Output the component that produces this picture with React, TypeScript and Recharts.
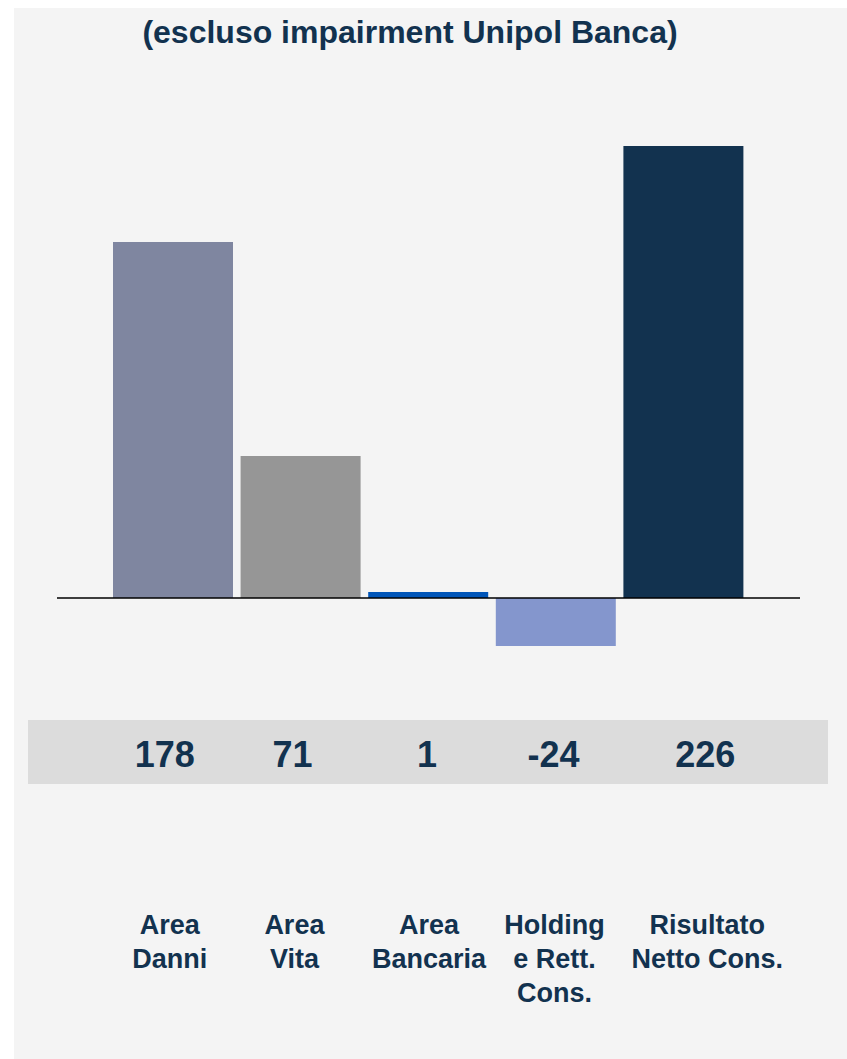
import React from 'react';
import { BarChart, Bar, XAxis, YAxis, Cell, ReferenceLine } from 'recharts';

const categories = ['Area Danni', 'Area Vita', 'Area Bancaria', 'Holding e Rett. Cons.', 'Risultato Netto Cons.'];
const labelLines = [['Area', 'Danni'], ['Area', 'Vita'], ['Area', 'Bancaria'], ['Holding', 'e Rett.', 'Cons.'], ['Risultato', 'Netto Cons.']];
const values = [178, 71, 1, -24, 226];
const colors = ['#7f86a0', '#969696', '#0055b8', '#8496cd', '#12324f'];

const data = categories.map((name, i) => ({ name, value: values[i] }));

const FONT = '"Liberation Sans", Arial, Helvetica, sans-serif';
const TEXT = '#12324f';

// fixed rows below the plot (page coordinates)
const VALUE_BASELINE = 767;
const LABEL_BASELINE = 934;
const LINE_STEP = 34;
// text boxes in the original are not quite centred on the bars
const VALUE_DX = [-8, -8, -1, -2, 22];
const LABEL_DX = [-3, -6, 1, -1, 24];

function CategoryTick(props: any) {
  const { x, payload } = props;
  const i = payload.index;
  return (
    <g>
      <text
        x={x + VALUE_DX[i]}
        y={VALUE_BASELINE}
        textAnchor="middle"
        fill={TEXT}
        fontFamily={FONT}
        fontWeight="bold"
        fontSize={36}
      >
        {values[i]}
      </text>
      {labelLines[i].map((line, k) => (
        <text
          key={k}
          x={x + LABEL_DX[i]}
          y={LABEL_BASELINE + k * LINE_STEP}
          textAnchor="middle"
          fill={TEXT}
          fontFamily={FONT}
          fontWeight="bold"
          fontSize={27}
        >
          {line}
        </text>
      ))}
    </g>
  );
}

export default function App() {
  return (
    <div style={{ position: 'absolute', left: 0, top: 0, width: 847, height: 1059, background: '#fff', overflow: 'hidden' }}>
      <div style={{ position: 'absolute', left: 14, top: 8, right: 0, bottom: 0, background: '#f4f4f4' }} />
      <div style={{ position: 'absolute', left: 28, top: 720, width: 800, height: 64, background: '#dcdcdc' }} />
      <div
        style={{
          position: 'absolute',
          left: 0,
          width: 820,
          top: 14,
          textAlign: 'center',
          fontFamily: FONT,
          fontWeight: 'bold',
          fontSize: 32,
          lineHeight: '36px',
          color: TEXT,
        }}
      >
        (escluso impairment Unipol Banca)
      </div>
      <div style={{ position: 'absolute', left: 0, top: 0 }}>
        <BarChart width={847} height={1059} data={data} margin={{ top: 98, right: 47, bottom: 231, left: 57 }}>
          <YAxis hide domain={[-100, 250]} allowDataOverflow />
          <XAxis
            dataKey="name"
            height={30}
            axisLine={false}
            tickLine={false}
            interval={0}
            padding={{ left: 52, right: 53 }}
            tick={<CategoryTick />}
          />
          <Bar dataKey="value" barSize={120} minPointSize={6} isAnimationActive={false}>
            {data.map((d, i) => (
              <Cell key={d.name} fill={colors[i]} />
            ))}
          </Bar>
          <ReferenceLine y={0} stroke="#000" strokeWidth={1.5} />
        </BarChart>
      </div>
    </div>
  );
}
